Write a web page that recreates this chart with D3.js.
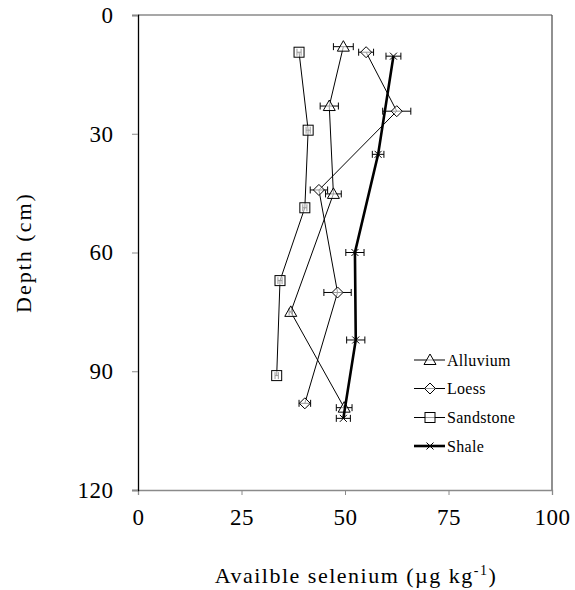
<!DOCTYPE html>
<html>
<head>
<meta charset="utf-8">
<script src="https://cdn.jsdelivr.net/npm/d3@7"></script>
<style>
  body { margin: 0; background: #fff; }
  svg text { font-family: "Liberation Serif", "Times New Roman", serif !important; }
</style>
</head>
<body>
<div id="chart"></div>
<script>
// series: available selenium (ug/kg) vs depth (cm), with +/- error
var alluviumDepth = [8.0, 23.0, 45.2, 75.0, 99.2];
var alluviumSe    = [49.6, 46.2, 47.2, 36.9, 49.8];
var alluviumErr   = [2.4, 2.2, 1.9, 0.4, 1.9];

var loessDepth = [9.4, 24.3, 44.2, 70.1, 98.1];
var loessSe    = [55.1, 62.5, 43.7, 48.2, 40.3];
var loessErr   = [1.8, 3.4, 2.1, 3.3, 1.4];

var sandstoneDepth = [9.4, 29.1, 48.7, 67.1, 91.1];
var sandstoneSe    = [38.9, 41.1, 40.3, 34.3, 33.5];
var sandstoneErr   = [0.5, 0.5, 0.5, 0.5, 0.4];

var shaleDepth = [10.4, 35.2, 60.0, 82.1, 101.9];
var shaleSe    = [61.7, 58.0, 52.4, 52.6, 49.6];
var shaleErr   = [1.8, 1.4, 2.2, 2.2, 1.7];

var xTicks = [0, 25, 50, 75, 100];
var yTicks = [0, 30, 60, 90, 120];

var seriesNames = ["Alluvium", "Loess", "Sandstone", "Shale"];

function init() {

  function zip(d, s, e) {
    return d.map(function(v, i) { return {depth: v, se: s[i], err: e[i]}; });
  }

  var series = [
    {symbol: "triangle", width: 1, data: zip(alluviumDepth, alluviumSe, alluviumErr)},
    {symbol: "diamond", width: 1, data: zip(loessDepth, loessSe, loessErr)},
    {symbol: "square", width: 1, data: zip(sandstoneDepth, sandstoneSe, sandstoneErr)},
    {symbol: "cross", width: 2.6, data: zip(shaleDepth, shaleSe, shaleErr)}
  ];

  var W = 575, H = 590;
  var margin = {top: 15, right: 23, bottom: 100, left: 138};
  var x0px = margin.left, x1px = W - margin.right;
  var y0px = margin.top, y1px = H - margin.bottom;

  var svg = d3.select("#chart").append("svg")
    .attr("width", W)
    .attr("height", H);

  var xScale = d3.scaleLinear().domain([0, 100]).range([x0px, x1px]);
  var yScale = d3.scaleLinear().domain([0, 120]).range([y0px, y1px]);

  // frame (top / right)
  svg.append("line")
    .attr("x1", x0px).attr("x2", x1px).attr("y1", y0px).attr("y2", y0px)
    .attr("stroke", "#8a8a8a").attr("stroke-width", 1.3);
  svg.append("line")
    .attr("x1", x1px).attr("x2", x1px).attr("y1", y0px).attr("y2", y1px)
    .attr("stroke", "#555").attr("stroke-width", 1.3);

  // x axis
  var xAxis = d3.axisBottom(xScale).tickValues(xTicks).tickSize(5).tickPadding(14);
  var gx = svg.append("g")
    .attr("transform", "translate(0," + y1px + ")")
    .call(xAxis);
  gx.select(".domain").attr("stroke", "#8a8a8a").attr("stroke-width", 1.3);
  gx.selectAll(".tick line").attr("stroke", "#8a8a8a");
  gx.selectAll("text").style("font-size", "23px").style("letter-spacing", "0.5px").attr("fill", "#000");

  // y axis
  var yAxis = d3.axisLeft(yScale).tickValues(yTicks).tickSize(6).tickPadding(18.5);
  var gy = svg.append("g")
    .attr("transform", "translate(" + x0px + ",0)")
    .call(yAxis);
  gy.select(".domain").attr("stroke", "#000").attr("stroke-width", 1.3);
  gy.selectAll(".tick line").attr("stroke", "#8a8a8a");
  gy.selectAll("text").style("font-size", "23px").style("letter-spacing", "0.5px").attr("fill", "#000");

  // axis titles
  svg.append("text")
    .attr("transform", "translate(31," + ((y0px + y1px) / 2) + ") rotate(-90)")
    .attr("text-anchor", "middle")
    .style("font-size", "22px")
    .style("letter-spacing", "2px")
    .text("Depth (cm)");

  var xt = svg.append("text")
    .attr("x", 356)
    .attr("y", 583)
    .attr("text-anchor", "middle")
    .style("font-size", "22px")
    .style("letter-spacing", "1.5px");
  xt.append("tspan").text("Availble selenium (\u00b5g kg");
  xt.append("tspan").attr("dy", -8).style("font-size", "14px").text("-1");
  xt.append("tspan").attr("dy", 8).text(")");

  var line = d3.line()
    .x(function(d) { return xScale(d.se); })
    .y(function(d) { return yScale(d.depth); });

  function drawSymbol(g, type, x, y) {
    if (type === "triangle") {
      g.append("path")
        .attr("d", "M" + x + "," + (y - 6) + "L" + (x + 6) + "," + (y + 4.5) + "L" + (x - 6) + "," + (y + 4.5) + "Z")
        .attr("fill", "#fff").attr("fill-opacity", 0.6).attr("stroke", "#000").attr("stroke-width", 1);
    } else if (type === "diamond") {
      g.append("path")
        .attr("d", "M" + x + "," + (y - 5.5) + "L" + (x + 5.5) + "," + y + "L" + x + "," + (y + 5.5) + "L" + (x - 5.5) + "," + y + "Z")
        .attr("fill", "#fff").attr("fill-opacity", 0.6).attr("stroke", "#000").attr("stroke-width", 1);
    } else if (type === "square") {
      g.append("rect")
        .attr("x", x - 5).attr("y", y - 5).attr("width", 10).attr("height", 10)
        .attr("fill", "#fff").attr("fill-opacity", 0.6).attr("stroke", "#000").attr("stroke-width", 1);
    } else {
      g.append("path")
        .attr("d", "M" + (x - 3.5) + "," + (y - 3.5) + "L" + (x + 3.5) + "," + (y + 3.5) +
                   "M" + (x - 3.5) + "," + (y + 3.5) + "L" + (x + 3.5) + "," + (y - 3.5))
        .attr("stroke", "#000").attr("stroke-width", 1);
    }
  }

  series.forEach(function(s) {
    var g = svg.append("g");
    g.append("path")
      .datum(s.data)
      .attr("fill", "none")
      .attr("stroke", "#000")
      .attr("stroke-width", s.width)
      .attr("d", line);

    s.data.forEach(function(d) {
      var cy = yScale(d.depth);
      var xa = xScale(d.se - d.err), xb = xScale(d.se + d.err);
      // error bar with caps
      g.append("path")
        .attr("d", "M" + xa + "," + cy + "H" + xb +
                   "M" + xa + "," + (cy - 3.5) + "V" + (cy + 3.5) +
                   "M" + xb + "," + (cy - 3.5) + "V" + (cy + 3.5))
        .attr("stroke", "#000").attr("stroke-width", 1).attr("fill", "none");
      drawSymbol(g, s.symbol, xScale(d.se), cy);
    });
  });

  // legend
  var legendY = [360, 388.5, 417.5, 446];
  series.forEach(function(s, i) {
    var g = svg.append("g");
    g.append("line")
      .attr("x1", 414).attr("x2", 445)
      .attr("y1", legendY[i]).attr("y2", legendY[i])
      .attr("stroke", "#000").attr("stroke-width", s.width);
    drawSymbol(g, s.symbol, 430, legendY[i]);
    g.append("text")
      .attr("x", 447)
      .attr("y", legendY[i] + 5.5)
      .style("font-size", "16px")
      .style("letter-spacing", "0.3px")
      .text(seriesNames[i]);
  });
}

window.onload = init;
</script>
</body>
</html>
